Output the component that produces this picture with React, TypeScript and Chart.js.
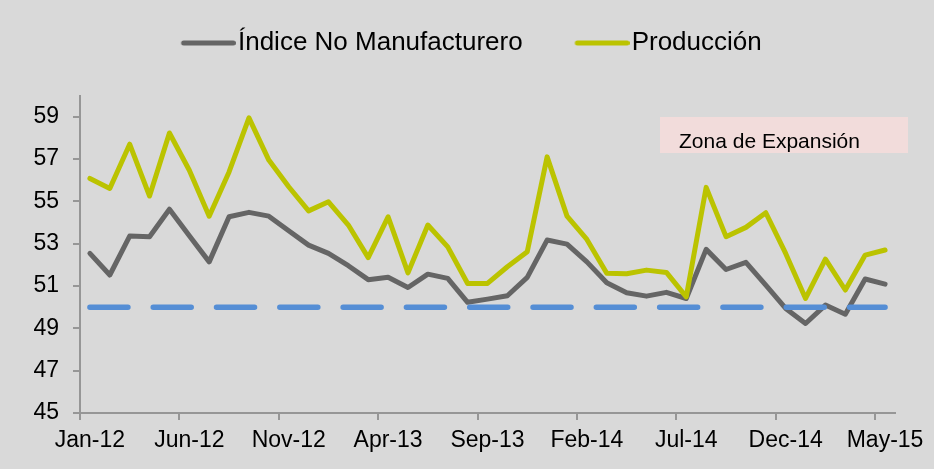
import React, { useEffect, useRef } from 'react';
import { Chart, registerables } from 'chart.js';

Chart.register(...registerables);

const months = [
  'Jan-12','Feb-12','Mar-12','Apr-12','May-12','Jun-12','Jul-12','Aug-12','Sep-12','Oct-12','Nov-12','Dec-12',
  'Jan-13','Feb-13','Mar-13','Apr-13','May-13','Jun-13','Jul-13','Aug-13','Sep-13','Oct-13','Nov-13','Dec-13',
  'Jan-14','Feb-14','Mar-14','Apr-14','May-14','Jun-14','Jul-14','Aug-14','Sep-14','Oct-14','Nov-14','Dec-14',
  'Jan-15','Feb-15','Mar-15','Apr-15','May-15',
];

const xTickLabels = ['Jan-12','Jun-12','Nov-12','Apr-13','Sep-13','Feb-14','Jul-14','Dec-14','May-15'];
const yTicks = [45, 47, 49, 51, 53, 55, 57, 59];

const indiceNoManufacturero = [
  52.54, 51.52, 53.36, 53.33, 54.63, 53.37, 52.14, 54.27, 54.48, 54.30,
  53.61, 52.93, 52.54, 51.96, 51.30, 51.41, 50.93, 51.56, 51.36, 50.23,
  50.38, 50.54, 51.41, 53.17, 52.98, 52.14, 51.15, 50.68, 50.52, 50.70,
  50.41, 52.73, 51.78, 52.12, 51.04, 49.94, 49.23, 50.10, 49.67, 51.33,
  51.09,
];

const produccion = [
  56.08, 55.61, 57.70, 55.25, 58.23, 56.47, 54.30, 56.39, 58.94, 56.95,
  55.69, 54.55, 54.98, 53.88, 52.34, 54.27, 51.62, 53.88, 52.85, 51.12,
  51.12, 51.91, 52.62, 57.10, 54.30, 53.20, 51.60, 51.58, 51.75, 51.64,
  50.49, 55.66, 53.33, 53.77, 54.46, 52.54, 50.41, 52.27, 50.81, 52.46,
  52.70,
];

const expansionThreshold = 50;
const seriesNames = ['Índice No Manufacturero', 'Producción'];
const zonaLabel = 'Zona de Expansión';

const GRAY = '#656565';
const YELLOW = '#bbc300';
const BLUE = '#558ed5';
const AXIS = '#969696';
const FONT = '"Liberation Sans", Arial, sans-serif';

function makeLegendLine(color: string): HTMLCanvasElement {
  const c = document.createElement('canvas');
  c.width = 94;
  c.height = 8;
  const g = c.getContext('2d')!;
  g.strokeStyle = color;
  g.lineWidth = 5;
  g.lineCap = 'round';
  g.beginPath();
  g.moveTo(39.3 + 2.5, 4);
  g.lineTo(94 - 2.5, 4);
  g.stroke();
  return c;
}

const legendSpacer = {
  id: 'legendSpacer',
  beforeLayout(chart: any) {
    const lg = chart.legend;
    if (lg && !lg.__patched) {
      const origFit = lg.fit;
      lg.fit = function () {
        origFit.call(this);
        this.height += 29.5;
      };
      lg.__patched = true;
    }
  },
};

const zonaPlugin = {
  id: 'zona',
  beforeDatasetsDraw(chart: any) {
    const ctx = chart.ctx;
    ctx.save();
    ctx.fillStyle = '#f2dcdb';
    ctx.fillRect(660, 117, 248, 36);
    ctx.fillStyle = '#000';
    ctx.font = `21px ${FONT}`;
    ctx.textBaseline = 'alphabetic';
    ctx.textAlign = 'left';
    ctx.fillText(zonaLabel, 679, 148);
    ctx.restore();
  },
};

export default function App() {
  const canvasRef = useRef<HTMLCanvasElement | null>(null);

  useEffect(() => {
    if (!canvasRef.current) return;
    const legendImgs = [makeLegendLine(GRAY), makeLegendLine(YELLOW)];
    const chart = new Chart(canvasRef.current, {
      type: 'line',
      data: {
        labels: months,
        datasets: [
          {
            label: seriesNames[0],
            data: indiceNoManufacturero,
            borderColor: GRAY,
            backgroundColor: GRAY,
            borderWidth: 5,
            pointRadius: 0,
            borderJoinStyle: 'round',
            borderCapStyle: 'round',
            order: 2,
          },
          {
            label: seriesNames[1],
            data: produccion,
            borderColor: YELLOW,
            backgroundColor: YELLOW,
            borderWidth: 5,
            pointRadius: 0,
            borderJoinStyle: 'round',
            borderCapStyle: 'round',
            order: 1,
          },
          {
            label: '',
            data: [
              { x: months[0], y: expansionThreshold },
              { x: months[months.length - 1], y: expansionThreshold },
            ] as any,
            borderColor: BLUE,
            backgroundColor: BLUE,
            borderWidth: 5.5,
            borderDash: [38, 25.3],
            borderCapStyle: 'round',
            pointRadius: 0,
            order: 0,
          },
        ],
      },
      options: {
        responsive: true,
        maintainAspectRatio: false,
        animation: false,
        layout: { padding: { top: 6.3, left: 19.4, right: 39, bottom: 7.4 } },
        elements: { line: { tension: 0 }, point: { radius: 0 } },
        plugins: {
          tooltip: { enabled: false },
          legend: {
            position: 'top',
            labels: {
              usePointStyle: true,
              pointStyleWidth: 72.3,
              padding: 23.7,
              color: '#000',
              font: { family: FONT, size: 26 },
              generateLabels: () =>
                seriesNames.map((name, i) => ({
                  text: name,
                  pointStyle: legendImgs[i],
                  fillStyle: 'transparent',
                  strokeStyle: 'transparent',
                  lineWidth: 0,
                  fontColor: '#000',
                  hidden: false,
                  rotation: 0,
                  datasetIndex: i,
                })) as any,
            },
          },
        },
        scales: {
          x: {
            type: 'category',
            offset: true,
            grid: {
              offset: true,
              drawOnChartArea: false,
              drawTicks: true,
              tickLength: 7,
              lineWidth: 2,
              color: (ctx: any) =>
                typeof ctx.index === 'number' && xTickLabels.includes(months[ctx.index]) ? AXIS : 'rgba(0,0,0,0)',
            },
            border: { color: AXIS, width: 2 },
            ticks: {
              autoSkip: false,
              maxRotation: 0,
              minRotation: 0,
              padding: 7,
              color: '#000',
              font: { family: FONT, size: 23 },
              callback: (_v: any, index: number) => (xTickLabels.includes(months[index]) ? months[index] : ''),
            },
          },
          y: {
            min: 45,
            max: 60,
            bounds: 'data',
            afterBuildTicks: (scale: any) => {
              scale.ticks = yTicks.map((v) => ({ value: v }));
            },
            grid: { drawOnChartArea: false, drawTicks: true, tickLength: 7, lineWidth: 2, color: AXIS },
            border: { color: AXIS, width: 2 },
            ticks: { padding: 14, color: '#000', font: { family: FONT, size: 23 } },
          },
        },
      },
      plugins: [legendSpacer, zonaPlugin],
    });
    return () => chart.destroy();
  }, []);

  return (
    <div
      style={{
        position: 'fixed',
        left: 0,
        top: 0,
        width: 934,
        height: 469,
        background: '#d9d9d9',
      }}
    >
      <canvas ref={canvasRef} />
    </div>
  );
}
